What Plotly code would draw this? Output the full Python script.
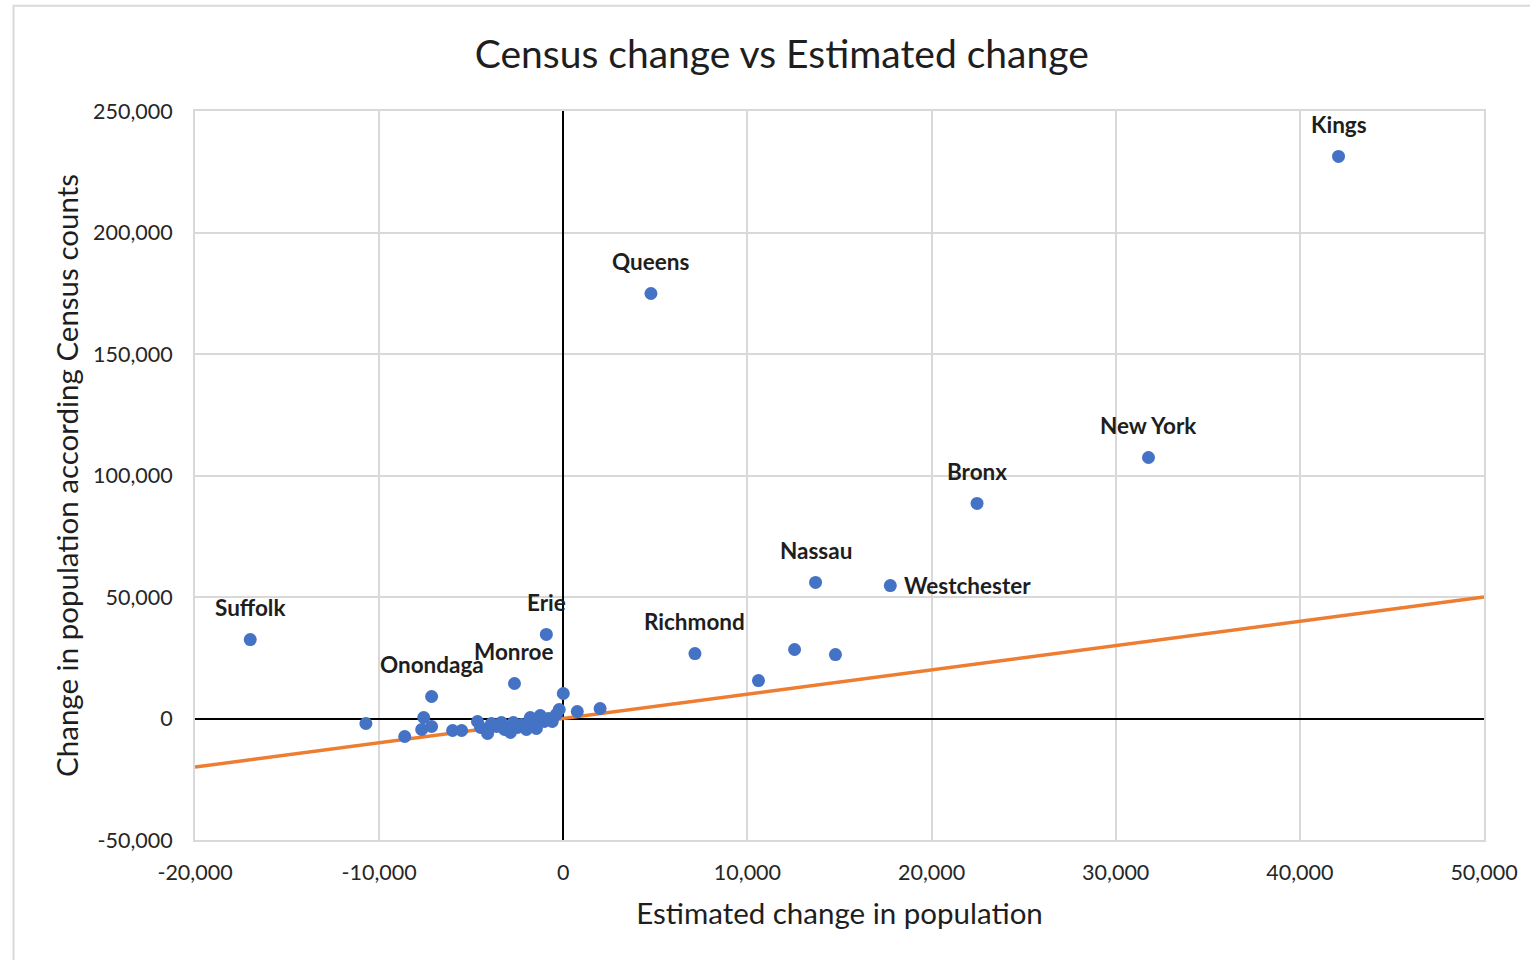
import plotly.graph_objects as go

# Labeled counties
label_names = ["Kings", "Queens", "New York", "Bronx", "Nassau", "Westchester",
               "Suffolk", "Erie", "Monroe", "Onondaga", "Richmond"]
label_x = [42100, 4760, 31780, 22470, 13700, 17760, -17000, -920, -2650, -7150, 7150]
label_y = [231300, 174900, 107400, 88500, 56000, 54700, 32500, 34600, 14400, 9050, 26700]

# Other counties (unlabeled)
other_x = [10600, 12560, 14780, 2000, 760, 0, -220, -10720, -8610, -7580, -7690, -7150,
           -6010, -5520, -4660, -4490, -4110, -3900, -3630, -3360, -3190, -2870, -2710,
           -2490, -2270, -2000, -1790, -1620, -1460, -1250, -1030, -810, -600, -380]
other_y = [15600, 28400, 26300, 4120, 2880, 10290, 3700, -2060, -7410, 410, -4530, -3290,
           -4940, -4940, -1230, -3700, -6170, -2060, -3290, -1650, -4530, -5760, -1650,
           -3700, -2470, -4530, 410, -2060, -4120, 1230, -1230, 0, -1230, 1650]

# Reference line (equal change)
line_x = [-20000, 50000]
line_y = [-20000, 50000]

# Tick labels
x_ticks = [-20000, -10000, 0, 10000, 20000, 30000, 40000, 50000]
x_ticktext = ["-20,000", "-10,000", "0", "10,000", "20,000", "30,000", "40,000", "50,000"]
y_ticks = [-50000, 0, 50000, 100000, 150000, 200000, 250000]
y_ticktext = ["-50,000", "0", "50,000", "100,000", "150,000", "200,000", "250,000"]

FONT = "Lato"
BLUE = "#4472C4"
ORANGE = "#ED7D31"
TXT = "#1e1e1e"

fig = go.Figure()
fig.add_trace(go.Scatter(x=line_x, y=line_y, mode="lines",
                         line=dict(color=ORANGE, width=3.5), hoverinfo="skip"))
fig.add_trace(go.Scatter(x=other_x + label_x, y=other_y + label_y, mode="markers",
                         marker=dict(color=BLUE, size=13, line=dict(width=0))))

for name, x, y in zip(label_names, label_x, label_y):
    if name == "Westchester":
        fig.add_annotation(x=x, y=y, text="<b>%s</b>" % name, showarrow=False,
                           xanchor="left", xshift=12, yshift=0,
                           font=dict(family=FONT, size=22.5, color=TXT))
    else:
        fig.add_annotation(x=x, y=y, text="<b>%s</b>" % name, showarrow=False,
                           yshift=32,
                           font=dict(family=FONT, size=22.5, color=TXT))

# outer chart border
fig.add_shape(type="rect", xref="paper", yref="paper",
              x0=-0.1408, x1=1.2, y0=-0.5, y1=1.1443,
              line=dict(color="#d9d9d9", width=2), fillcolor="rgba(0,0,0,0)", layer="below")

fig.update_layout(
    width=1530, height=960,
    margin=dict(l=195, r=37, t=111, b=120),
    paper_bgcolor="white", plot_bgcolor="white",
    showlegend=False,
    font=dict(family=FONT, color=TXT),
    title=dict(text="Census change vs Estimated change", x=0.511, xref="container",
               xanchor="center", y=1 - 54 / 960, yref="container", yanchor="middle",
               font=dict(family=FONT, size=39, color=TXT)),
    xaxis=dict(range=[-20000, 50000], tickvals=x_ticks, ticktext=x_ticktext, showgrid=True,
               gridcolor="#d9d9d9", gridwidth=2, zeroline=True, zerolinecolor="black",
               zerolinewidth=2, showline=True, linecolor="#d9d9d9", linewidth=2, mirror=True,
               ticks="", ticklabelstandoff=12,
               tickfont=dict(family=FONT, size=21.5, color="#262626"),
               title=dict(text="Estimated change in population", standoff=20,
                          font=dict(family=FONT, size=29.5, color=TXT))),
    yaxis=dict(range=[-50000, 250000], tickvals=y_ticks, ticktext=y_ticktext, showgrid=True,
               gridcolor="#d9d9d9", gridwidth=2, zeroline=True, zerolinecolor="black",
               zerolinewidth=2, showline=True, linecolor="#d9d9d9", linewidth=2, mirror=True,
               ticks="", ticklabelstandoff=16,
               tickfont=dict(family=FONT, size=21.5, color="#262626"),
               title=dict(text="Change in population according Census counts", standoff=6,
                          font=dict(family=FONT, size=29.5, color=TXT))),
)

fig.write_html("out.html", config={"displayModeBar": False},
               post_script="document.body.style.margin='0';")
